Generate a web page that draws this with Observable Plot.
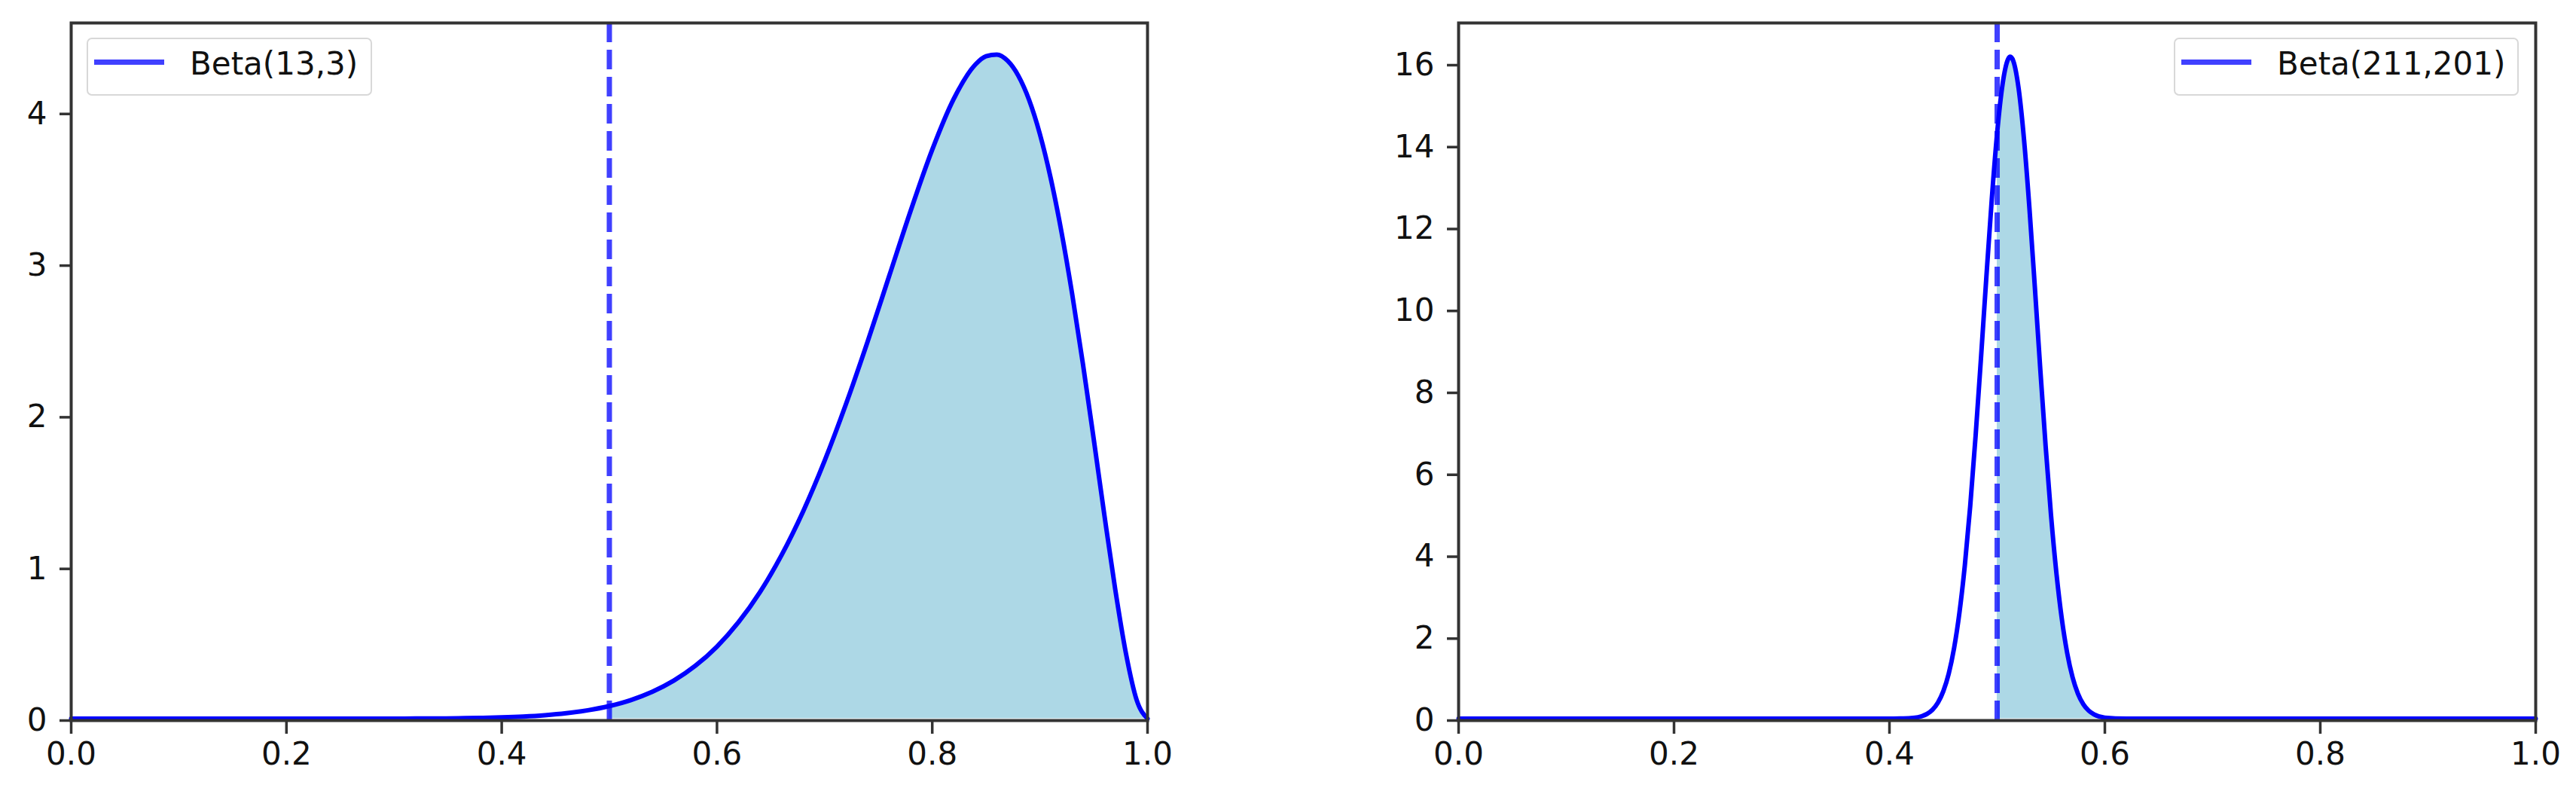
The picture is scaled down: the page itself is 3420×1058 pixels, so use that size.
<!DOCTYPE html>
<html>
<head>
<meta charset="utf-8">
<script src="https://cdn.jsdelivr.net/npm/d3@7"></script>
<script src="https://cdn.jsdelivr.net/npm/@observablehq/plot@0.6"></script>
<style>
  body { margin: 0; background: #fff; }
  #wrap { position: relative; width: 3420px; height: 1058px; font-family: "DejaVu Sans", sans-serif; }
  .panel { position: absolute; top: 0; }
  .legend { position: absolute; box-sizing: border-box; border: 2.5px solid #d8d8d8; border-radius: 7px; background: rgba(255,255,255,0.8); }
  .legend .swatch { position: absolute; height: 7px; background: #4040ff; }
  .legend .lab { position: absolute; font-size: 42px; color: #111; line-height: 1; white-space: nowrap; }
</style>
</head>
<body>
<div id="wrap">
  <div class="panel" id="left" style="left:0"></div>
  <div class="panel" id="right" style="left:1710px"></div>
  <div class="legend" style="left:115px; top:50px; width:379px; height:77px">
    <div class="swatch" style="left:8px; width:93px; top:27px"></div>
    <div class="lab" style="left:135px; top:12px">Beta(13,3)</div>
  </div>
  <div class="legend" style="left:2886px; top:50px; width:458px; height:77px">
    <div class="swatch" style="left:8px; width:93px; top:27px"></div>
    <div class="lab" style="left:135px; top:12px">Beta(211,201)</div>
  </div>
</div>
<script>
// Beta(13,3) density
const leftX = [0, 0.1, 0.2, 0.25, 0.3, 0.32, 0.34, 0.36, 0.38, 0.4, 0.42, 0.44, 0.46, 0.48, 0.5,
  0.52, 0.54, 0.56, 0.58, 0.6, 0.62, 0.64, 0.66, 0.68, 0.7, 0.72, 0.74, 0.76, 0.78, 0.8,
  0.82, 0.84, 0.85, 0.86, 0.87, 0.88, 0.89, 0.9, 0.91, 0.92, 0.93, 0.94, 0.95, 0.96, 0.97, 0.98, 0.99, 1]
const leftY = [0, 0, 0, 0.0001, 0.0004, 0.0007, 0.0014, 0.0027, 0.0048, 0.0083, 0.0138, 0.0225, 0.0357, 0.0552, 0.0833,
  0.1228, 0.1776, 0.2513, 0.3491, 0.4754, 0.6362, 0.8354, 1.0784, 1.3663, 1.7004, 2.0772, 2.4873, 2.9196, 3.3509, 3.7521,
  4.0874, 4.3131, 4.3686, 4.3791, 4.3381, 4.2392, 4.0794, 3.8552, 3.5655, 3.2119, 2.7999, 2.3388, 1.844, 1.3382, 0.8524, 0.4285, 0.121, 0]

// Beta(211,201) density
const rightX = [0, 0.2, 0.38, 0.4, 0.41, 0.42, 0.43, 0.435, 0.44, 0.445, 0.45, 0.455, 0.46, 0.465, 0.47, 0.475,
  0.48, 0.485, 0.49, 0.495, 0.5, 0.505, 0.51, 0.5122, 0.515, 0.52, 0.525, 0.53, 0.535, 0.54, 0.545, 0.55,
  0.555, 0.56, 0.565, 0.57, 0.575, 0.58, 0.585, 0.59, 0.6, 0.62, 0.64, 0.8, 1]
const rightY = [0, 0, 0, 0.0004, 0.0027, 0.014, 0.0604, 0.1175, 0.2189, 0.3907, 0.6686, 1.095, 1.7204, 2.591, 3.745, 5.192,
  6.904, 8.81, 10.787, 12.677, 14.303, 15.484, 16.092, 16.16, 16.057, 15.372, 14.124, 12.451, 10.533, 8.55, 6.657, 4.97,
  3.559, 2.442, 1.606, 1.012, 0.6107, 0.3528, 0.195, 0.1031, 0.0252, 0.0009, 0, 0, 0]

const cutoff = [0.5]
const xTicks = [0, 0.2, 0.4, 0.6, 0.8, 1.0]
const leftTicks = [0, 1, 2, 3, 4]
const rightTicks = [0, 2, 4, 6, 8, 10, 12, 14, 16]

function panel(xs, ys, yMax, yTicks, ml, mr) {
  return Plot.plot({
    width: 1710,
    height: 1058,
    marginLeft: ml,
    marginRight: mr,
    marginTop: 30,
    marginBottom: 102,
    style: {fontFamily: '"DejaVu Sans", sans-serif', fontSize: '42px', color: '#111', background: 'transparent'},
    x: {domain: [0, 1]},
    y: {domain: [0, yMax]},
    marks: [
      Plot.areaY(xs, {x: xs, y: ys, filter: d => d >= 0.5, fill: '#add8e6', curve: 'monotone-x', dy: -2.5}),
      Plot.line(xs, {x: xs, y: ys, stroke: '#0000ff', strokeWidth: 6, curve: 'monotone-x', dy: -2.5}),
      Plot.ruleX(cutoff, {stroke: '#0000ff', strokeOpacity: 0.75, strokeWidth: 7, strokeDasharray: '26 10'}),
      Plot.axisX({ticks: xTicks, tickFormat: d3.format('.1f'), tickSize: 18, tickPadding: 11,
        stroke: '#333', strokeWidth: 3.5, fill: '#111', label: null}),
      Plot.axisY({ticks: yTicks, tickFormat: d3.format('d'), tickSize: 15, tickPadding: 17,
        stroke: '#333', strokeWidth: 3.5, fill: '#111', label: null}),
      Plot.frame({stroke: '#333', strokeWidth: 4})
    ]
  })
}

// matplotlib leaves 5% headroom above the peak
d3.select('#left').append(() => panel(leftX, leftY, 4.6, leftTicks, 94, 187))
d3.select('#right').append(() => panel(rightX, rightY, 17.03, rightTicks, 226, 54))
</script>
</body>
</html>
